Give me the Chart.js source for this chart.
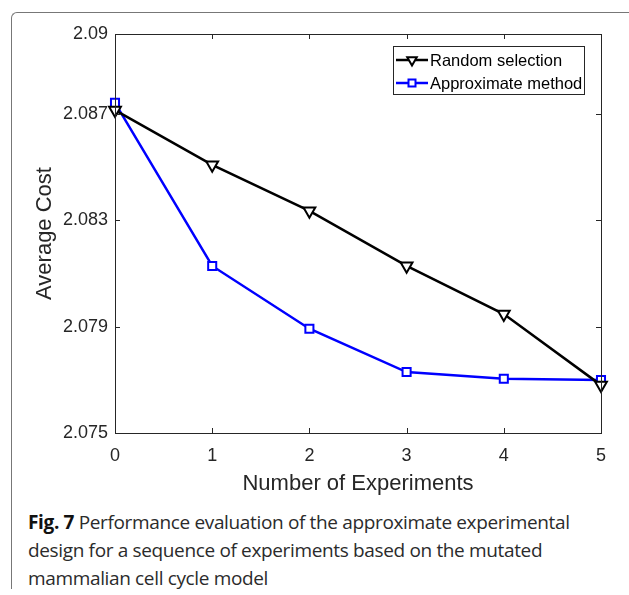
<!DOCTYPE html>
<html lang="en">
<head>
    <meta charset="UTF-8">
    <title>Fig. 7</title>
    <script src="https://cdn.jsdelivr.net/npm/chart.js"></script>
    <style>
        body { margin: 0; background: #fff; }
        .page { position: relative; width: 629px; height: 595px; overflow: hidden; }
        .frame {
            position: absolute; left: 11px; top: 12px; width: 640px; height: 576px;
            border-left: 1.5px solid #777; border-top: 1.5px solid #777;
            border-top-left-radius: 6px;
        }
        #chartBox { position: absolute; left: 0; top: 0; width: 629px; height: 500px; }
        .caption {
            position: absolute; left: 28px; top: 508px; width: 590px;
            font-family: "Open Sans", sans-serif; font-size: 19px; line-height: 28px;
            color: #2b2b2b; letter-spacing: -0.35px;
        }
        .caption b { font-weight: 700; color: #111; }
    </style>
</head>
<body>
<div class="page">
    <div class="frame"></div>
    <div id="chartBox"><canvas id="costChart" width="629" height="500"></canvas></div>
    <div class="caption"><b>Fig. 7</b> Performance evaluation of the approximate experimental<br>design for a sequence of experiments based on the mutated<br>mammalian cell cycle model</div>
</div>

<script>
    // 数据
    const experiments = [0, 1, 2, 3, 4, 5];
    const randomSelection = [2.08714, 2.08508, 2.08335, 2.08128, 2.07947, 2.0768];
    const approximateMethod = [2.08741, 2.08128, 2.07892, 2.07729, 2.07704, 2.07699];
    const yTicks = [2.075, 2.079, 2.083, 2.087, 2.09];
    const yTickLabels = ['2.075', '2.079', '2.083', '2.087', '2.09'];
    const xTicks = [0, 1, 2, 3, 4, 5];

    const axisColor = '#262626';
    const fontName = '"Liberation Sans", Arial, sans-serif';

    // 图框 + 内向刻度 + 图例
    const matlabBox = {
        id: 'matlabBox',
        afterDraw(chart) {
            const ctx = chart.ctx;
            const a = chart.chartArea;
            const xs = chart.scales.x, ys = chart.scales.y;
            ctx.save();
            ctx.strokeStyle = axisColor;
            ctx.lineWidth = 1;
            ctx.strokeRect(a.left + 0.5, a.top + 0.5, a.right - a.left, a.bottom - a.top);
            ctx.beginPath();
            xTicks.forEach(v => {
                const px = Math.round(xs.getPixelForValue(v)) + 0.5;
                ctx.moveTo(px, a.bottom); ctx.lineTo(px, a.bottom - 5);
                ctx.moveTo(px, a.top); ctx.lineTo(px, a.top + 5);
            });
            yTicks.forEach(v => {
                const py = Math.round(ys.getPixelForValue(v)) + 0.5;
                ctx.moveTo(a.left, py); ctx.lineTo(a.left + 5, py);
                ctx.moveTo(a.right, py); ctx.lineTo(a.right - 5, py);
            });
            ctx.stroke();

            // 图例
            const lx = 393, ly = 46, lw = 191, lh = 48;
            ctx.fillStyle = '#fff';
            ctx.fillRect(lx, ly, lw, lh);
            ctx.strokeRect(lx + 0.5, ly + 0.5, lw, lh);
            ctx.font = '16.5px ' + fontName;
            ctx.textBaseline = 'middle';
            chart.data.datasets.forEach((ds, i) => {
                const y = ly + 14 + i * 23;
                ctx.strokeStyle = ds.borderColor;
                ctx.lineWidth = ds.borderWidth;
                ctx.beginPath();
                ctx.moveTo(lx + 3, y); ctx.lineTo(lx + 35, y);
                ctx.stroke();
                const cx = lx + 19;
                ctx.fillStyle = '#fff';
                ctx.lineWidth = 2;
                ctx.beginPath();
                if (ds.pointStyle === 'triangle') {
                    const r = 5.5;
                    ctx.moveTo(cx, y + r);
                    ctx.lineTo(cx - r * 0.866, y - r * 0.5);
                    ctx.lineTo(cx + r * 0.866, y - r * 0.5);
                    ctx.closePath();
                } else {
                    ctx.rect(cx - 3.5, y - 3.5, 7, 7);
                }
                ctx.fill();
                ctx.stroke();
                ctx.fillStyle = '#000';
                ctx.fillText(ds.label, lx + 37, y + 1);
            });
            ctx.restore();
        }
    };

    new Chart(document.getElementById('costChart'), {
        type: 'line',
        data: {
            datasets: [{
                label: 'Random selection',
                data: experiments.map((x, i) => ({ x: x, y: randomSelection[i] })),
                borderColor: '#000000',
                borderWidth: 2.5,
                pointStyle: 'triangle',
                rotation: 180,
                pointRadius: 6.8,
                pointBorderWidth: 2,
                pointBackgroundColor: '#ffffff',
                clip: false
            }, {
                label: 'Approximate method',
                data: experiments.map((x, i) => ({ x: x, y: approximateMethod[i] })),
                borderColor: '#0000ff',
                borderWidth: 2.5,
                pointStyle: 'rect',
                pointRadius: 5.7,
                pointBorderWidth: 2,
                pointBackgroundColor: '#ffffff',
                clip: false
            }]
        },
        options: {
            responsive: false,
            animation: false,
            layout: { padding: { top: 34, right: 28, left: 0, bottom: 0 } },
            plugins: { legend: { display: false }, tooltip: { enabled: false } },
            scales: {
                x: {
                    type: 'linear',
                    min: 0, max: 5,
                    grid: { display: false, drawTicks: false },
                    border: { display: false },
                    afterFit(scale) { scale.height = 67; },
                    afterBuildTicks(scale) { scale.ticks = xTicks.map(v => ({ value: v })); },
                    ticks: { color: axisColor, padding: 12, font: { family: fontName, size: 18 } },
                    title: {
                        display: true, text: 'Number of Experiments', color: axisColor,
                        padding: { top: 0, bottom: 3 }, font: { family: fontName, size: 22 }
                    }
                },
                y: {
                    min: 2.075, max: 2.09,
                    grid: { display: false, drawTicks: false },
                    border: { display: false },
                    afterFit(scale) { scale.width = 115; },
                    afterBuildTicks(scale) { scale.ticks = yTicks.map(v => ({ value: v })); },
                    ticks: {
                        color: axisColor, padding: 7, font: { family: fontName, size: 18 },
                        callback: (v) => yTickLabels[yTicks.indexOf(v)]
                    },
                    title: {
                        display: true, text: 'Average Cost', color: axisColor,
                        padding: { top: 32, bottom: 0 }, font: { family: fontName, size: 22 }
                    }
                }
            }
        },
        plugins: [matlabBox]
    });
</script>
</body>
</html>
